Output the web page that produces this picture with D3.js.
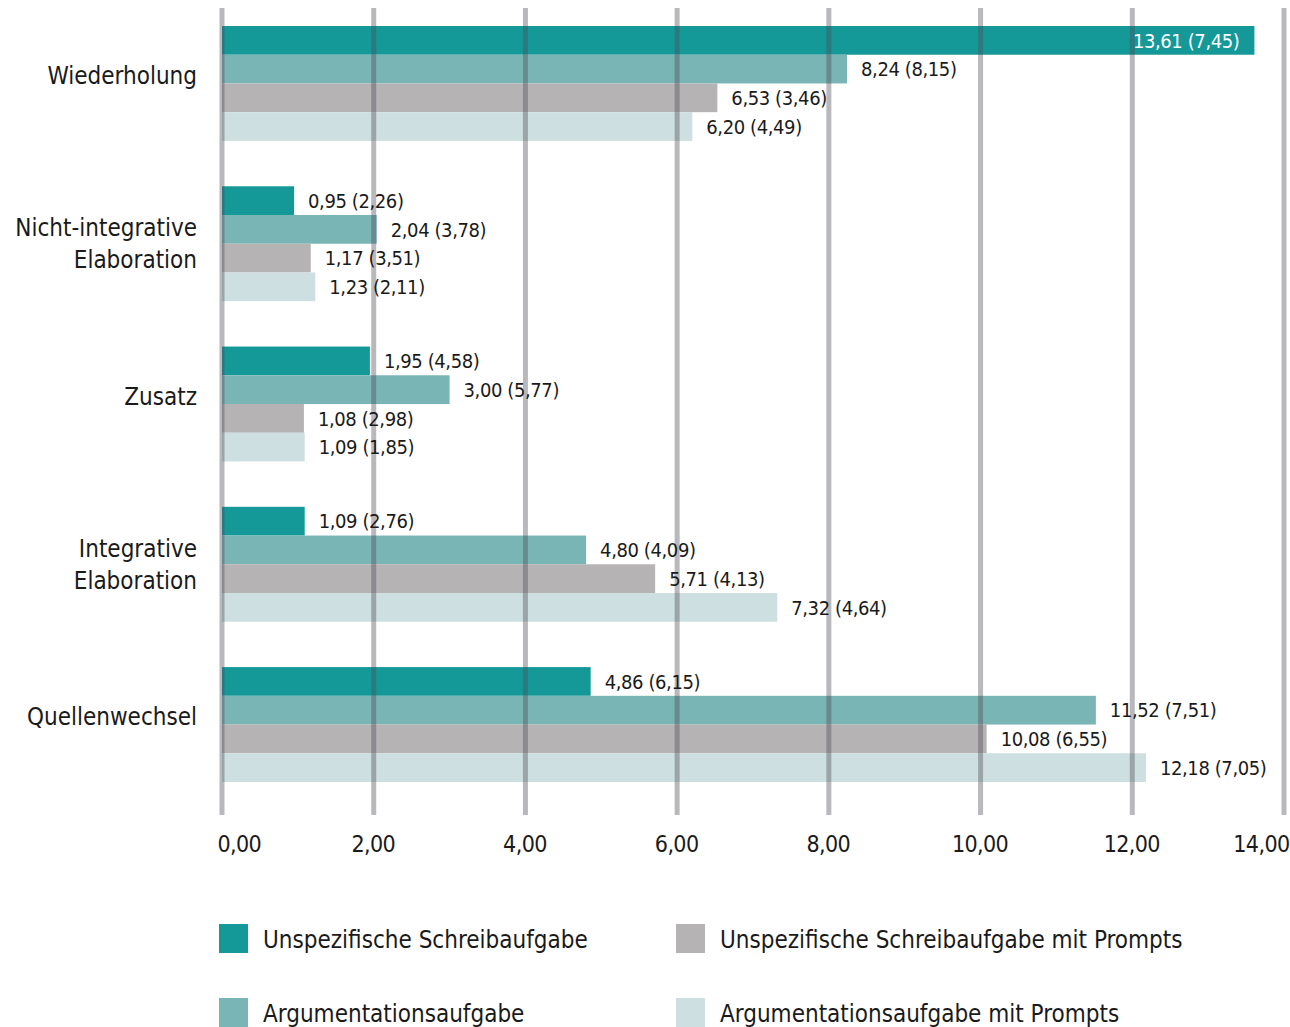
<!DOCTYPE html>
<html>
<head>
<script src="https://d3js.org/d3.v7.min.js"></script>
<style>
    body { margin: 0; background: #fff; }
    svg text { font-family: "Liberation Sans Narrow", "DejaVu Sans Condensed", "Roboto", sans-serif; fill: #1a1a1a; }
</style>
</head>
<body>
<script>
// data
var categories = ['Wiederholung', 'Nicht-integrative\nElaboration', 'Zusatz', 'Integrative\nElaboration', 'Quellenwechsel'];
var seriesNames = ['Unspezifische Schreibaufgabe', 'Argumentationsaufgabe',
                   'Unspezifische Schreibaufgabe mit Prompts', 'Argumentationsaufgabe mit Prompts'];
var means = [
    [13.61, 0.95, 1.95, 1.09, 4.86],
    [8.24, 2.04, 3.00, 4.80, 11.52],
    [6.53, 1.17, 1.08, 5.71, 10.08],
    [6.20, 1.23, 1.09, 7.32, 12.18]
];
var sds = [
    [7.45, 2.26, 4.58, 2.76, 6.15],
    [8.15, 3.78, 5.77, 4.09, 7.51],
    [3.46, 3.51, 2.98, 4.13, 6.55],
    [4.49, 2.11, 1.85, 4.64, 7.05]
];
var xTicks = [0, 2, 4, 6, 8, 10, 12, 14];
var colors = ['#149898', '#7ab5b5', '#b5b3b4', '#cddfe0'];

var width = 1290, height = 1027;
var fmt = d => d.toFixed(2).replace('.', ',');

var svg = d3.select('body').append('svg')
    .attr('width', width)
    .attr('height', height);

// scales
var x = d3.scaleLinear().domain([0, 14]).range([222, 1284]);
var y0 = d3.scaleBand().domain(categories).range([26, 782]).paddingInner(0.283).paddingOuter(0);
var y1 = d3.scaleBand().domain(d3.range(4)).range([0, y0.bandwidth()]);

var rows = [];
categories.forEach((c, ci) => {
    seriesNames.forEach((s, si) => {
        rows.push({cat: c, s: si, v: means[si][ci], sd: sds[si][ci]});
    });
});

// bars
svg.append('g')
    .selectAll('rect')
    .data(rows)
    .enter()
    .append('rect')
    .attr('x', x(0))
    .attr('y', d => y0(d.cat) + y1(d.s))
    .attr('width', d => x(d.v) - x(0))
    .attr('height', y1.bandwidth())
    .style('fill', d => colors[d.s]);

// gridlines drawn over the bars
svg.append('g')
    .selectAll('line')
    .data(xTicks)
    .enter()
    .append('line')
    .attr('x1', d => x(d)).attr('x2', d => x(d))
    .attr('y1', 8).attr('y2', 815)
    .attr('stroke', '#4f4d58')
    .attr('stroke-opacity', 0.4)
    .attr('stroke-width', 5);

// value labels
svg.append('g')
    .selectAll('text')
    .data(rows)
    .enter()
    .append('text')
    .attr('x', d => d.v > 13 ? x(d.v) - 15 : x(d.v) + 14)
    .attr('y', d => y0(d.cat) + y1(d.s) + y1.bandwidth() / 2)
    .attr('dy', '0.36em')
    .attr('text-anchor', d => d.v > 13 ? 'end' : 'start')
    .style('font-size', '20px')
    .style('letter-spacing', '-0.4px')
    .style('fill', d => d.v > 13 ? '#fff' : '#1a1a1a')
    .text(d => fmt(d.v) + ' (' + fmt(d.sd) + ')');

// category labels
var catLabels = svg.append('g')
    .selectAll('text')
    .data(categories)
    .enter()
    .append('text')
    .attr('text-anchor', 'end')
    .style('font-size', '24px')
    .attr('transform', d => 'translate(197,' + (y0(d) + y0.bandwidth() / 2 + (d.indexOf('\n') < 0 ? -8 : 0)) + ')');
catLabels.each(function(d) {
    var lines = d.split('\n');
    var t = d3.select(this);
    lines.forEach((l, i) => {
        t.append('tspan')
            .attr('x', 0)
            .attr('y', (i - (lines.length - 1) / 2) * 32)
            .attr('dy', '0.36em')
            .text(l);
    });
});

// x axis labels
var xAxis = d3.axisBottom(x).tickValues(xTicks).tickFormat(fmt).tickSize(0).tickPadding(0);
var ax = svg.append('g')
    .attr('transform', 'translate(0,836)')
    .call(xAxis);
ax.select('.domain').remove();
ax.selectAll('text')
    .attr('font-family', null)
    .style('font-size', '23px')
    .style('letter-spacing', '-0.6px')
    .style('fill', '#1a1a1a')
    .attr('text-anchor', d => d === 0 ? 'start' : (d === 14 ? 'end' : 'middle'))
    .attr('x', d => d === 0 ? -5 : (d === 14 ? 5 : -1));

// legend
var legendPos = [[219, 924], [219, 998], [676, 924], [676, 998]];
var li = svg.append('g')
    .selectAll('g')
    .data(seriesNames)
    .enter()
    .append('g')
    .attr('transform', (d, i) => 'translate(' + legendPos[i][0] + ',' + legendPos[i][1] + ')');
li.append('rect')
    .attr('width', 29).attr('height', 29)
    .style('fill', (d, i) => colors[i]);
li.append('text')
    .attr('x', 44).attr('y', 15)
    .attr('dy', '0.36em')
    .style('font-size', '24px')
    .text(d => d);
</script>
</body>
</html>
